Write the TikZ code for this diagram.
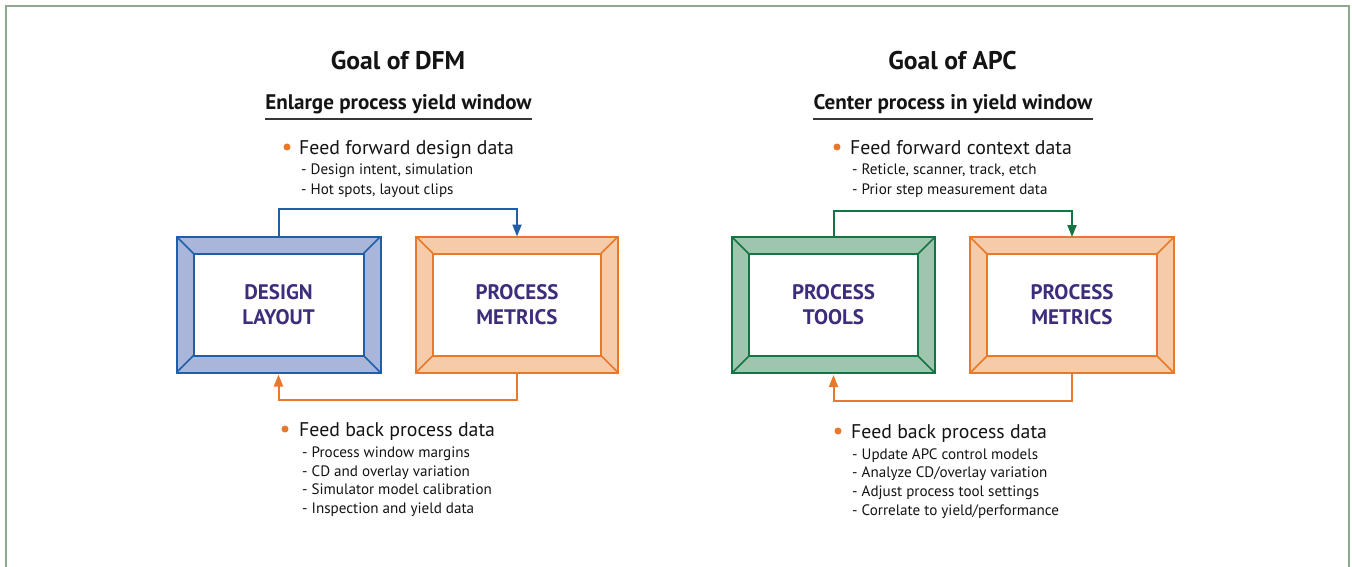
\documentclass[tikz,border=0pt]{standalone}
\usepackage{fontspec}
\setmainfont{PT Sans}
\usetikzlibrary{arrows.meta}

\definecolor{blueline}{HTML}{1F5FA8}
\definecolor{bluefill}{HTML}{A9B6D9}
\definecolor{orline}{HTML}{E8782A}
\definecolor{orfill}{HTML}{F5CBA9}
\definecolor{grline}{HTML}{137544}
\definecolor{grfill}{HTML}{9FC5AF}
\definecolor{labelpurple}{HTML}{3E2C7C}
\definecolor{framegray}{HTML}{8CA990}
\definecolor{textdark}{HTML}{141414}

% bevelled picture-frame box drawn around an (empty) named node
\newcommand{\bevelbox}[3]{%
  \fill[#3] (#1.north west) rectangle (#1.south east);
  \fill[white] ([shift={(17pt,-17pt)}]#1.north west) rectangle ([shift={(-17pt,17pt)}]#1.south east);
  \draw[#2, line width=2pt] (#1.north west) rectangle (#1.south east);
  \draw[#2, line width=2pt] ([shift={(17pt,-17pt)}]#1.north west) rectangle ([shift={(-17pt,17pt)}]#1.south east);
  \draw[#2, line width=1.5pt] (#1.north west) -- ++(17pt,-17pt);
  \draw[#2, line width=1.5pt] (#1.north east) -- ++(-17pt,-17pt);
  \draw[#2, line width=1.5pt] (#1.south west) -- ++(17pt,17pt);
  \draw[#2, line width=1.5pt] (#1.south east) -- ++(-17pt,17pt);
}

\begin{document}
\begin{tikzpicture}[x=1pt,y=-1pt,
  boxshape/.style={rectangle, inner sep=0pt, outer sep=0pt, minimum height=136pt},
  boxlabel/.style={inner sep=0pt, align=center, text=labelpurple,
    font=\fontsize{21}{25}\selectfont\bfseries},
  title/.style={inner sep=0pt, anchor=base, text=textdark,
    font=\fontsize{25.6}{30}\selectfont\bfseries},
  subtitle/.style={inner sep=0pt, anchor=base, text=textdark,
    font=\fontsize{21.1}{24}\selectfont\bfseries},
  head/.style={inner sep=0pt, anchor=base west, text=textdark,
    font=\fontsize{19.8}{24}\selectfont},
  item/.style={inner sep=0pt, anchor=base west, text=textdark,
    font=\fontsize{15.1}{17}\selectfont},
  dot/.style={circle, fill=orline, inner sep=0pt, minimum size=7pt},
  conn/.style={line width=2pt, -{Triangle[length=12pt,width=9pt]}},
]
\useasboundingbox (0,0) rectangle (1352,567);
\fill[white] (0,0) rectangle (1352,567);

% outer frame (open at the bottom)
\draw[framegray, line width=2pt] (5.5,568) -- (5.5,6) -- (1349,6) -- (1349,568);

% ---------------- DFM side ----------------
\node[title] (t1) at (398,70) {Goal of DFM};
\node[subtitle] (s1) at (398.5,110) {Enlarge process yield window};
\draw[textdark!85, line width=1.5pt] ([yshift=-9pt]s1.base west) -- ([yshift=-9pt]s1.base east);

\node[dot] (b1) at (287,147) {};
\node[head] (h1) at (299,154) {Feed forward design data};
\node[item] (i11) at (301,175) {- Design intent, simulation};
\node[item] (i12) at (301,194) {- Hot spots, layout clips};

\node[boxshape, minimum width=204pt] (dl) at (278.5,304.5) {};
\node[boxshape, minimum width=202pt] (pm1) at (517,304.5) {};
\bevelbox{dl}{blueline}{bluefill}
\bevelbox{pm1}{orline}{orfill}
\node[boxlabel] at (dl.center) {DESIGN\\LAYOUT};
\node[boxlabel] at (pm1.center) {PROCESS\\METRICS};

\draw[conn, blueline] (dl.north) -- ++(0,-28) -| (pm1.north);
\draw[conn, orline, shorten >=2pt] (pm1.south) -- ++(0,27) -| (dl.south);

\node[dot] (b2) at (285,429) {};
\node[head] (h2) at (299,436) {Feed back process data};
\node[item] (i21) at (302,457.7) {- Process window margins};
\node[item] (i22) at (302,476.2) {- CD and overlay variation};
\node[item] (i23) at (302,494.8) {- Simulator model calibration};
\node[item] (i24) at (302,513.3) {- Inspection and yield data};

% ---------------- APC side ----------------
\node[title] (t2) at (952.5,70) {Goal of APC};
\node[subtitle] (s2) at (953,110) {Center process in yield window};
\draw[textdark!85, line width=1.5pt] ([yshift=-9pt]s2.base west) -- ([yshift=-9pt]s2.base east);

\node[dot] (b3) at (837,147) {};
\node[head] (h3) at (850,154) {Feed forward context data};
\node[item] (i31) at (852,175) {- Reticle, scanner, track, etch};
\node[item] (i32) at (852,194) {- Prior step measurement data};

\node[boxshape, minimum width=203pt] (pt) at (833.5,305) {};
\node[boxshape, minimum width=204pt] (pm2) at (1072,305) {};
\bevelbox{pt}{grline}{grfill}
\bevelbox{pm2}{orline}{orfill}
\node[boxlabel] at (pt.center) {PROCESS\\TOOLS};
\node[boxlabel] at (pm2.center) {PROCESS\\METRICS};

\draw[conn, grline] (pt.north) -- ++(0,-26) -| (pm2.north);
\draw[conn, orline, shorten >=2pt] (pm2.south) -- ++(0,28) -| (pt.south);

\node[dot] (b4) at (838,431) {};
\node[head] (h4) at (851,438.3) {Feed back process data};
\node[item] (i41) at (852,459) {- Update APC control models};
\node[item] (i42) at (852,477.7) {- Analyze CD/overlay variation};
\node[item] (i43) at (852,496.4) {- Adjust process tool settings};
\node[item] (i44) at (852,515) {- Correlate to yield/performance};
\end{tikzpicture}
\end{document}
